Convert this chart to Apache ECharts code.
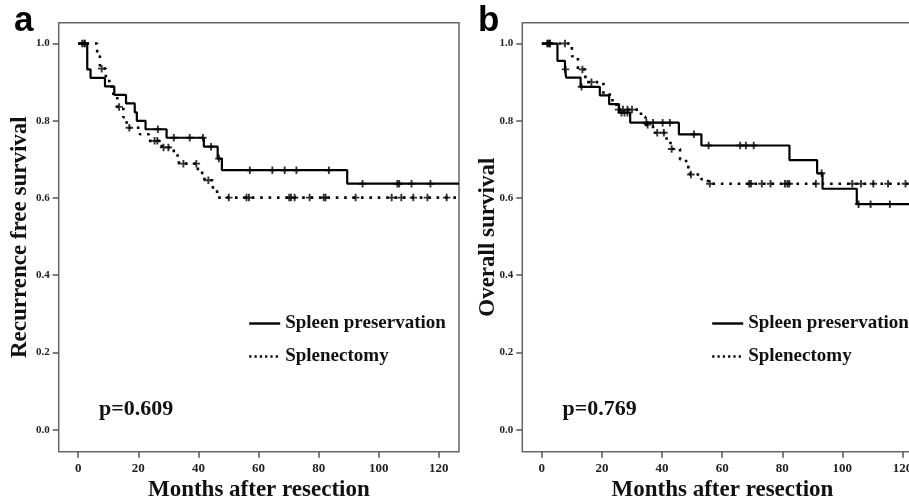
<!DOCTYPE html>
<html><head><meta charset="utf-8">
<script src="https://cdn.jsdelivr.net/npm/echarts@6/dist/echarts.min.js"></script>
<style>html,body{margin:0;padding:0;background:#fff}#c{width:909px;height:499px}</style>
</head><body><div id="c"></div>
<script>
// ---- tick labels ----
const xTicks = [0, 20, 40, 60, 80, 100, 120];
const yTicks = [0, 0.2, 0.4, 0.6, 0.8, 1.0];
const groupNames = ['Spleen preservation', 'Splenectomy'];

// ---- panel a: recurrence free survival ----
const aPresTimes = [0, 3.0, 4.1, 8.9, 12.0, 15.9, 18.8, 19.5, 22.4, 29.4, 41.8, 46.4, 47.8, 89.5];
const aPresSurv  = [1.0, 0.933, 0.911, 0.889, 0.867, 0.845, 0.822, 0.800, 0.778, 0.756, 0.733, 0.702, 0.672, 0.637];
const aPresCens  = [1.3, 2.2, 26.5, 31.8, 37.1, 41.5, 44.2, 46.8, 57.1, 64.6, 68.7, 72.6, 83.4, 94.6, 106.2, 106.8, 110.9, 117.2];
const aSplTimes  = [0, 6.3, 7.2, 9.2, 11.2, 13.0, 15.0, 16.1, 20.5, 23.5, 27.8, 31.8, 33.5, 39.8, 42.0, 44.8, 46.2];
const aSplSurv   = [1.0, 0.967, 0.935, 0.903, 0.870, 0.836, 0.809, 0.782, 0.765, 0.748, 0.731, 0.710, 0.689, 0.665, 0.646, 0.624, 0.601];
const aSplCens   = [2.0, 7.8, 13.6, 17.0, 25.4, 26.3, 28.4, 30.0, 35.0, 39.3, 43.3, 50.1, 56.0, 56.8, 70.2, 70.8, 72.0, 77.0, 81.7, 82.3, 92.3, 104.3, 107.5, 111.5, 116.2, 122.6];

// ---- panel b: overall survival ----
const bPresTimes = [0, 5.2, 7.7, 8.1, 12.9, 19.3, 22.4, 25.7, 29.4, 45.6, 53.1, 82.4, 91.6, 93.4, 104.8];
const bPresSurv  = [1.0, 0.955, 0.933, 0.912, 0.888, 0.866, 0.843, 0.821, 0.795, 0.765, 0.736, 0.698, 0.664, 0.624, 0.584];
const bPresCens  = [1.8, 2.7, 7.9, 13.2, 26.5, 27.5, 28.5, 34.8, 37.0, 40.2, 42.6, 50.6, 55.5, 66.0, 67.9, 70.5, 93.1, 105.4, 109.4, 115.8];
const bSplTimes  = [0, 10.0, 12.0, 14.5, 20.5, 23.5, 24.8, 33.0, 34.5, 37.0, 41.5, 42.8, 46.0, 48.0, 49.3, 53.0, 55.3];
const bSplSurv   = [1.0, 0.967, 0.933, 0.900, 0.868, 0.848, 0.829, 0.810, 0.790, 0.769, 0.748, 0.727, 0.700, 0.680, 0.661, 0.649, 0.637];
const bSplCens   = [2.1, 2.6, 7.7, 13.5, 16.5, 25.5, 27.0, 28.5, 30.0, 35.2, 38.4, 40.6, 43.2, 49.6, 55.9, 69.0, 69.6, 73.2, 76.1, 80.9, 81.7, 82.3, 91.2, 103.3, 106.2, 110.3, 115.2, 121.0];

const X_MIN = -6.5, X_MAX = 126.7, Y_MIN = -0.057, Y_MAX = 1.054;
const SERIF = '"Liberation Serif","Times New Roman",serif';

function stepData(times, surv) {
  const d = times.map((t, i) => [t, surv[i]]);
  d.push([X_MAX, surv[surv.length - 1]]);
  return d;
}
function survAt(times, surv, t) {
  let s = surv[0];
  for (let i = 0; i < times.length; i++) if (times[i] <= t) s = surv[i];
  return s;
}
function censData(times, surv, cens) {
  return cens.map(t => [t, survAt(times, surv, t)]);
}

const cross = 'path://M3,0h2v8h-2z M0,3h8v2h-8z';

function axesFor(gi, yName, yGap) {
  const x = {
    type: 'value', gridIndex: gi, min: X_MIN, max: X_MAX,
    axisLine: { show: false, onZero: false },
    splitLine: { show: false },
    axisTick: { show: true, length: 6, customValues: xTicks, lineStyle: { color: '#555', width: 1.5 } },
    axisLabel: { customValues: xTicks, margin: 10, color: '#222', fontFamily: SERIF, fontWeight: 'bold', fontSize: 13 },
    name: 'Months after resection', nameLocation: 'middle', nameGap: 27, nameMoveOverlap: false,
    nameTextStyle: { fontFamily: SERIF, fontWeight: 'bold', fontSize: 23, color: '#111', verticalAlign: 'top' }
  };
  const y = {
    type: 'value', gridIndex: gi, min: Y_MIN, max: Y_MAX,
    axisLine: { show: false, onZero: false },
    splitLine: { show: false },
    axisTick: { show: true, length: 6, customValues: yTicks, lineStyle: { color: '#555', width: 1.5 } },
    axisLabel: { customValues: yTicks, margin: 9, color: '#222', fontFamily: SERIF, fontWeight: 'bold', fontSize: 11,
                 formatter: v => v.toFixed(1) },
    name: yName, nameLocation: 'middle', nameGap: yGap, nameMoveOverlap: false,
    nameTextStyle: { fontFamily: SERIF, fontWeight: 'bold', fontSize: 23, color: '#111' }
  };
  return [x, y];
}

const [xa, ya] = axesFor(0, 'Recurrence free survival', 27);
const [xb, yb] = axesFor(1, 'Overall survival', 23);

const solidStyle = { color: '#000', width: 2.2, type: 'solid' };
const dotStyle = { color: '#000', width: 2.6, type: [2.6, 5.8], cap: 'butt' };

function kmSeries(name, gi, times, surv, cens, ls) {
  return [
    { name: name, type: 'line', xAxisIndex: gi, yAxisIndex: gi, step: 'end', symbol: 'none',
      lineStyle: ls, itemStyle: { color: '#000' }, data: stepData(times, surv), animation: false, z: 3 },
    { name: name + ' censored', type: 'scatter', xAxisIndex: gi, yAxisIndex: gi, symbol: cross, symbolSize: 7.5,
      itemStyle: { color: '#000' }, data: censData(times, surv, cens), animation: false, z: 4 }
  ];
}

function legendFor(left) {
  return {
    left: left, top: 314, padding: 0, orient: 'vertical', itemWidth: 31, itemHeight: 14, itemGap: 14,
    selectedMode: false,
    textStyle: { fontFamily: SERIF, fontWeight: 'bold', fontSize: 19, color: '#111', lineHeight: 19 },
    data: [
      { name: groupNames[0], itemStyle: { opacity: 0 }, lineStyle: { type: 'solid', width: 2.4, color: '#000' } },
      { name: groupNames[1], itemStyle: { opacity: 0 }, lineStyle: { type: [2.2, 3.1], width: 2.4, color: '#000' } }
    ]
  };
}

const gridBase = { top: 22.7, width: 400.3, height: 429, show: true, borderColor: '#666', borderWidth: 1.5,
                   backgroundColor: '#fff', containLabel: false, outerBoundsMode: 'none' };

const option = {
  backgroundColor: '#fff',
  animation: false,
  grid: [
    Object.assign({ left: 58.7 }, gridBase),
    Object.assign({ left: 522.3 }, gridBase)
  ],
  xAxis: [xa, xb],
  yAxis: [ya, yb],
  legend: [legendFor(248), legendFor(711)],
  series: [].concat(
    kmSeries(groupNames[0], 0, aPresTimes, aPresSurv, aPresCens, solidStyle),
    kmSeries(groupNames[1], 0, aSplTimes, aSplSurv, aSplCens, dotStyle),
    kmSeries(groupNames[0], 1, bPresTimes, bPresSurv, bPresCens, solidStyle),
    kmSeries(groupNames[1], 1, bSplTimes, bSplSurv, bSplCens, dotStyle)
  ),
  graphic: [
    { type: 'text', left: 14, top: 4, style: { text: 'a', font: 'bold 35px "Liberation Sans", Arial, sans-serif', fill: '#000' } },
    { type: 'text', left: 478, top: 4, style: { text: 'b', font: 'bold 35px "Liberation Sans", Arial, sans-serif', fill: '#000' } },
    { type: 'text', left: 99, top: 398, style: { text: 'p=0.609', font: 'bold 22px ' + SERIF, fill: '#111' } },
    { type: 'text', left: 562.5, top: 398, style: { text: 'p=0.769', font: 'bold 22px ' + SERIF, fill: '#111' } }
  ]
};

const chart = echarts.init(document.getElementById('c'), null, { renderer: 'canvas' });
chart.setOption(option);
</script></body></html>
